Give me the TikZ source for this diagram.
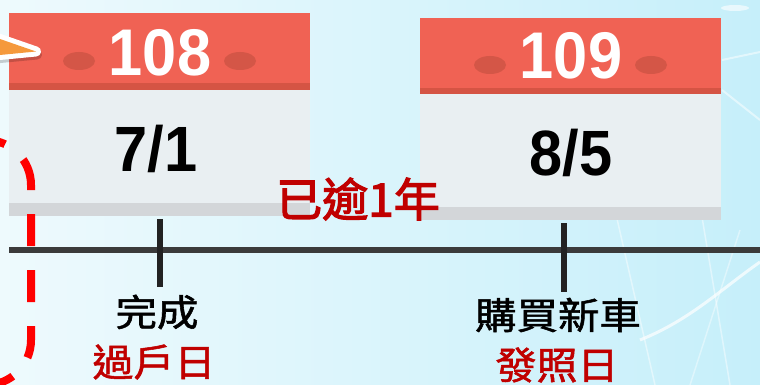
\documentclass[tikz,border=0pt]{standalone}
\usepackage{fontspec}
\setmainfont{Liberation Sans}
\newfontfamily\cjk[FakeBold=1.4]{Noto Sans CJK TC}
\newfontfamily\cjkh[FakeBold=2.6]{Noto Sans CJK TC}
\usetikzlibrary{shapes.geometric}
\definecolor{bgleft}{HTML}{EEFAFD}
\definecolor{bgright}{HTML}{C6EFFA}
\definecolor{calred}{HTML}{F06254}
\definecolor{calstrip}{HTML}{D55444}
\definecolor{caldot}{HTML}{D45647}
\definecolor{calbody}{HTML}{E9EFF2}
\definecolor{calfoot}{HTML}{D3D6D9}
\definecolor{lineg}{HTML}{3B3B3B}
\definecolor{tickg}{HTML}{222222}
\definecolor{darkred}{HTML}{C00000}
\definecolor{arroworange}{HTML}{F5993C}
\tikzset{
  calbox/.style={rectangle, anchor=north west, inner sep=0pt, outer sep=0pt, minimum width=301pt},
  caldotst/.style={ellipse, fill=caldot, inner sep=0pt, minimum width=32pt, minimum height=18pt},
  yeartxt/.style={text=white, font=\fontsize{66}{66}\selectfont\bfseries, xscale=0.93, inner sep=0pt},
  datetxt/.style={text=black, font=\fontsize{64}{64}\selectfont\bfseries, xscale=0.93, inner sep=0pt},
  blacklbl/.style={text=black, font=\cjk\fontsize{37}{37}\selectfont, xscale=1.12, inner sep=0pt},
  redlbl/.style={text=darkred, font=\cjk\fontsize{38}{38}\selectfont, xscale=1.08, inner sep=0pt},
  tickline/.style={draw=tickg, line width=6pt},
}
\begin{document}
\begin{tikzpicture}[x=1pt,y=-1pt]
\useasboundingbox (0,0) rectangle (760,385);
\clip (0,0) rectangle (760,385);
% background
\shade[left color=bgleft, right color=bgright] (0,0) rectangle (760,385);
\draw[white, opacity=0.7, line width=3pt] (640,340) .. controls (690,320) and (720,290) .. (760,262);
\draw[white, opacity=0.45, line width=1.5pt] (615,210) -- (655,385);
\draw[white, opacity=0.45, line width=1.5pt] (700,205) -- (730,385);
\draw[white, opacity=0.4, line width=1.5pt] (690,385) -- (740,230);
\draw[white, opacity=0.5, line width=2pt] (722,60) -- (760,52);
\draw[white, opacity=0.5, line width=2pt] (722,90) -- (760,120);
\fill[white, opacity=0.6] (735,8) ellipse (14pt and 3pt);

% calendar 1
\node[calbox, fill=calred, minimum height=70pt] (c1top) at (9,13) {};
\node[calbox, fill=calstrip, minimum height=7pt] (c1strip) at (9,83) {};
\node[calbox, fill=calbody, minimum height=113pt] (c1body) at (9,90) {};
\node[calbox, fill=calfoot, minimum height=13pt] (c1foot) at (9,203) {};
\node[caldotst] (c1dl) at (79,61) {};
\node[caldotst] (c1dr) at (240,61) {};
\node[yeartxt] (y1) at (160,52.5) {108};
\node[datetxt] (d1) at (156,149) {7/1};

% calendar 2
\node[calbox, fill=calred, minimum height=70pt] (c2top) at (420,18) {};
\node[calbox, fill=calstrip, minimum height=6pt] (c2strip) at (420,88) {};
\node[calbox, fill=calbody, minimum height=113pt] (c2body) at (420,94) {};
\node[calbox, fill=calfoot, minimum height=13pt] (c2foot) at (420,207) {};
\node[caldotst] (c2dl) at (490,65) {};
\node[caldotst] (c2dr) at (651,65) {};
\node[yeartxt] (y2) at (571,56) {109};
\node[datetxt] (d2) at (571,152.5) {8/5};

% red dashed bracket
\draw[red, line width=8pt, rounded corners=45pt, dash pattern=on 32pt off 24pt, dash phase=22.3pt]
  (-60,140) -- (31,140) -- (31,385) -- (-60,385);

% orange arrow head
\draw[black, opacity=0.18, line width=10pt, line join=round] (-30,31.6) -- (37,54.5) -- (-30,60.9) -- cycle;
\draw[white, line width=10pt, line join=round, fill=arroworange] (-30,28.6) -- (36,51.5) -- (-30,57.9) -- cycle;
\fill[arroworange] (-30,28.6) -- (36,51.5) -- (-30,57.9) -- cycle;

% timeline
\coordinate (tl0) at (9,250);
\coordinate (tl1) at (762,250);
\draw[lineg, line width=6pt] (tl0) -- (tl1);
\coordinate (t1a) at (160,219);
\coordinate (t1b) at (160,287);
\coordinate (t2a) at (564,223);
\coordinate (t2b) at (564,292);
\draw[tickline] (t1a) -- (t1b);
\draw[tickline] (t2a) -- (t2b);

% labels
\node[text=darkred, font=\cjkh\fontsize{46}{46}\selectfont, inner sep=0pt] (gap) at (358,199) {已逾1年};
\node[blacklbl] (l1) at (157,312) {完成};
\node[redlbl] (l1r) at (154,362) {過戶日};
\node[blacklbl] (l2) at (558,315) {購買新車};
\node[redlbl] (l2r) at (557,365) {發照日};
\end{tikzpicture}
\end{document}
